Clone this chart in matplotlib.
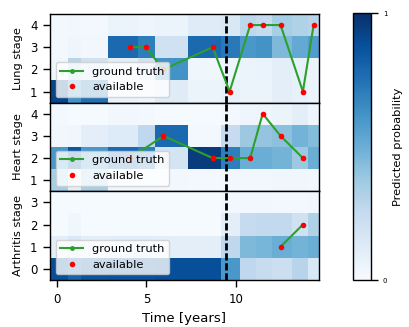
import matplotlib
matplotlib.use('Agg')
import matplotlib.pyplot as plt
import numpy as np

# visit times (years)
times = [0.1, 1.1, 1.6, 4.1, 4.95, 5.95, 8.7, 9.65, 10.8, 11.5, 12.5, 13.75, 14.35]
cutoff = 9.45

lung_stages = [1, 2, 3, 4]
lung_prob = [
    [0.92, 0.62, 0.75, 0.06, 0.05, 0.12, 0.06, 0.08, 0.06, 0.06, 0.10, 0.08, 0.06],
    [0.04, 0.30, 0.20, 0.10, 0.20, 0.62, 0.04, 0.05, 0.06, 0.07, 0.10, 0.08, 0.06],
    [0.02, 0.05, 0.03, 0.78, 0.70, 0.20, 0.78, 0.72, 0.60, 0.62, 0.45, 0.52, 0.58],
    [0.02, 0.03, 0.02, 0.06, 0.05, 0.06, 0.12, 0.15, 0.28, 0.25, 0.35, 0.32, 0.30],
]
lung_gt_t = [4.1, 4.95, 5.95, 8.7, 9.65, 10.8, 11.5, 12.5, 13.75, 14.35]
lung_gt_s = [3, 3, 2, 3, 1, 4, 4, 4, 1, 4]

heart_stages = [1, 2, 3, 4]
heart_prob = [
    [0.35, 0.10, 0.35, 0.04, 0.03, 0.03, 0.02, 0.03, 0.03, 0.03, 0.04, 0.04, 0.03],
    [0.60, 0.85, 0.60, 0.78, 0.70, 0.18, 0.95, 0.70, 0.50, 0.50, 0.48, 0.38, 0.50],
    [0.03, 0.04, 0.10, 0.13, 0.27, 0.78, 0.02, 0.25, 0.38, 0.40, 0.42, 0.48, 0.44],
    [0.02, 0.01, 0.01, 0.03, 0.02, 0.01, 0.01, 0.02, 0.05, 0.05, 0.06, 0.10, 0.05],
]
heart_gt_t = [4.1, 5.95, 8.7, 9.65, 10.8, 11.5, 12.5, 13.75]
heart_gt_s = [2, 3, 2, 2, 2, 4, 3, 2]

arth_stages = [0, 1, 2, 3]
arth_prob = [
    [0.88, 0.80, 0.86, 0.87, 0.87, 0.88, 0.88, 0.60, 0.27, 0.24, 0.22, 0.30, 0.15],
    [0.10, 0.15, 0.10, 0.11, 0.11, 0.10, 0.10, 0.27, 0.45, 0.47, 0.50, 0.48, 0.50],
    [0.01, 0.04, 0.01, 0.01, 0.01, 0.01, 0.01, 0.10, 0.25, 0.26, 0.26, 0.20, 0.32],
    [0.01, 0.01, 0.01, 0.01, 0.01, 0.01, 0.01, 0.03, 0.03, 0.03, 0.02, 0.02, 0.03],
]
arth_gt_t = [12.5, 13.75]
arth_gt_s = [1, 2]

panels = [
    ("Lung stage", lung_stages, lung_prob, lung_gt_t, lung_gt_s),
    ("Heart stage", heart_stages, heart_prob, heart_gt_t, heart_gt_s),
    ("Arthritis stage", arth_stages, arth_prob, arth_gt_t, arth_gt_s),
]

plt.rcParams['axes.linewidth'] = 1.0

fig = plt.figure(figsize=(4.09, 3.27), dpi=100)
L, W = 0.1222, 0.6577
B, H = 0.1437, 0.2712
axes = []
for i in range(3):
    if axes:
        ax = fig.add_axes([L, B + (2 - i) * H, W, H], sharex=axes[0])
    else:
        ax = fig.add_axes([L, B + (2 - i) * H, W, H])
    axes.append(ax)

mesh = None
for ax, (lab, stages, prob, gt_t, gt_s) in zip(axes, panels):
    mesh = ax.pcolormesh(times, stages, np.array(prob), cmap='Blues',
                         vmin=0, vmax=1, shading='nearest')
    ax.axvline(cutoff, color='black', lw=2, linestyle=(0, (2.6, 1.0)))
    ax.plot(gt_t, gt_s, color='tab:green', marker='.', ms=5, lw=1.5,
            label='ground truth')
    ax.plot(gt_t, gt_s, 'r.', ms=6, ls='none', label='available')
    ax.legend(loc='lower left', fontsize=8.2)
    ax.set_yticks(stages)
    ax.set_ylabel(lab, fontsize=8.2, labelpad=5)
    ax.tick_params(labelsize=8.5, length=5, width=1, pad=4)

for ax in axes[:2]:
    ax.tick_params(labelbottom=False)
axes[2].set_xticks([0, 5, 10])
axes[2].set_xlabel("Time [years]", fontsize=9.5, labelpad=5)

cax = fig.add_axes([0.863, 0.1437, 0.044, 0.8163])
cb = fig.colorbar(mesh, cax=cax, ticks=[0, 1])
cb.ax.tick_params(labelsize=5, length=5, width=1)
cb.set_label("Predicted probability", fontsize=8.2)

fig.savefig("out.png", dpi=100)
